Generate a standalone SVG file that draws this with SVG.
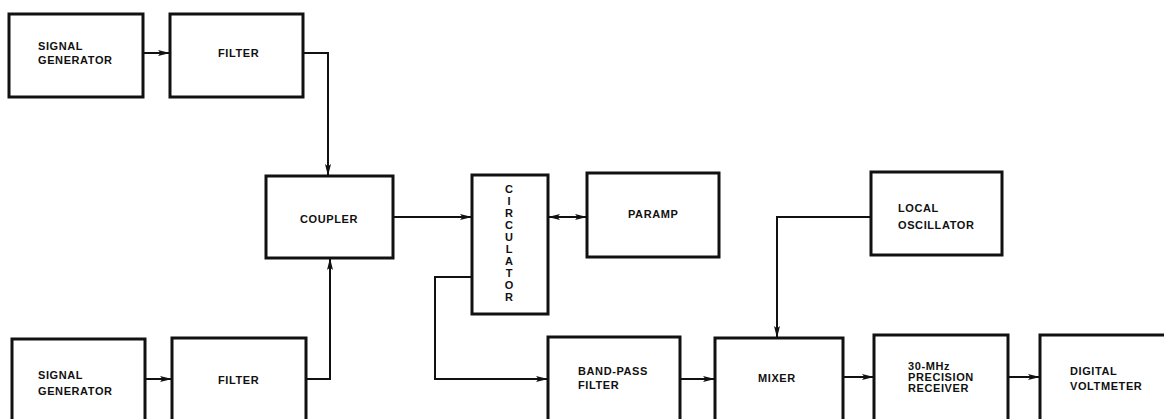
<svg xmlns="http://www.w3.org/2000/svg" width="1164" height="419" viewBox="0 0 1164 419">
<style>
.box{fill:#fff;stroke:#111;stroke-width:3;}
.t{font-family:"Liberation Sans",Arial,sans-serif;font-weight:bold;font-size:11px;fill:#111;letter-spacing:0.6px;}
.c{fill:none;stroke:#111;stroke-width:2;}
</style>
<defs>
<marker id="ah" viewBox="0 0 12 9" refX="12" refY="4.5" markerWidth="12" markerHeight="9" markerUnits="userSpaceOnUse" orient="auto-start-reverse">
<path d="M0,1.5 Q3.5,4.5 0,7.5 L12,4.5 z" fill="#111"/>
</marker>
</defs>
<rect width="1164" height="419" fill="#fff"/>
<g id="connectors">
<path class="c" d="M143,53 H170" marker-end="url(#ah)"/>
<path class="c" d="M303,53 H328 V176" marker-end="url(#ah)"/>
<path class="c" d="M145,379 H172" marker-end="url(#ah)"/>
<path class="c" d="M306,379 H330 V258" marker-end="url(#ah)"/>
<path class="c" d="M393,217 H472" marker-end="url(#ah)"/>
<path class="c" d="M548,217 H587" marker-start="url(#ah)" marker-end="url(#ah)"/>
<path class="c" d="M472,277 H435 V379 H548" marker-end="url(#ah)"/>
<path class="c" d="M680,379 H715" marker-end="url(#ah)"/>
<path class="c" d="M871,217 H777 V338" marker-end="url(#ah)"/>
<path class="c" d="M843,377 H874" marker-end="url(#ah)"/>
<path class="c" d="M1008,377 H1040" marker-end="url(#ah)"/>
</g>
<g id="siggen1"><rect class="box" x="9" y="14" width="134" height="83"/><text class="t" x="38" y="50">SIGNAL</text><text class="t" x="38" y="64">GENERATOR</text></g>
<g id="filter1"><rect class="box" x="170" y="14" width="133" height="83"/><text class="t" x="218" y="57">FILTER</text></g>
<g id="coupler"><rect class="box" x="266" y="176" width="127" height="82"/><text class="t" x="300" y="223">COUPLER</text></g>
<g id="circulator"><rect class="box" x="472" y="175" width="76" height="139"/>
<text class="t" x="509" text-anchor="middle" style="letter-spacing:0"><tspan x="509" y="193">C</tspan><tspan x="509" y="205">I</tspan><tspan x="509" y="217">R</tspan><tspan x="509" y="229">C</tspan><tspan x="509" y="241">U</tspan><tspan x="509" y="253">L</tspan><tspan x="509" y="265">A</tspan><tspan x="509" y="277">T</tspan><tspan x="509" y="289">O</tspan><tspan x="509" y="301">R</tspan></text></g>
<g id="paramp"><rect class="box" x="587" y="173" width="132" height="84"/><text class="t" x="628" y="218">PARAMP</text></g>
<g id="lo"><rect class="box" x="871" y="172" width="131" height="83"/><text class="t" x="898" y="212">LOCAL</text><text class="t" x="898" y="229">OSCILLATOR</text></g>
<g id="siggen2"><rect class="box" x="12" y="339" width="133" height="90"/><text class="t" x="38" y="379">SIGNAL</text><text class="t" x="38" y="395">GENERATOR</text></g>
<g id="filter2"><rect class="box" x="172" y="338" width="134" height="90"/><text class="t" x="218" y="384">FILTER</text></g>
<g id="bpf"><rect class="box" x="548" y="337" width="132" height="90"/><text class="t" x="578" y="375">BAND-PASS</text><text class="t" x="578" y="389">FILTER</text></g>
<g id="mixer"><rect class="box" x="715" y="338" width="128" height="90"/><text class="t" x="758" y="382">MIXER</text></g>
<g id="receiver"><rect class="box" x="874" y="335" width="134" height="92"/><text class="t" x="908" y="370">30-MHz</text><text class="t" x="908" y="381">PRECISION</text><text class="t" x="908" y="392">RECEIVER</text></g>
<g id="voltmeter"><rect class="box" x="1040" y="335" width="140" height="92"/><text class="t" x="1070" y="375">DIGITAL</text><text class="t" x="1070" y="390">VOLTMETER</text></g>
</svg>
